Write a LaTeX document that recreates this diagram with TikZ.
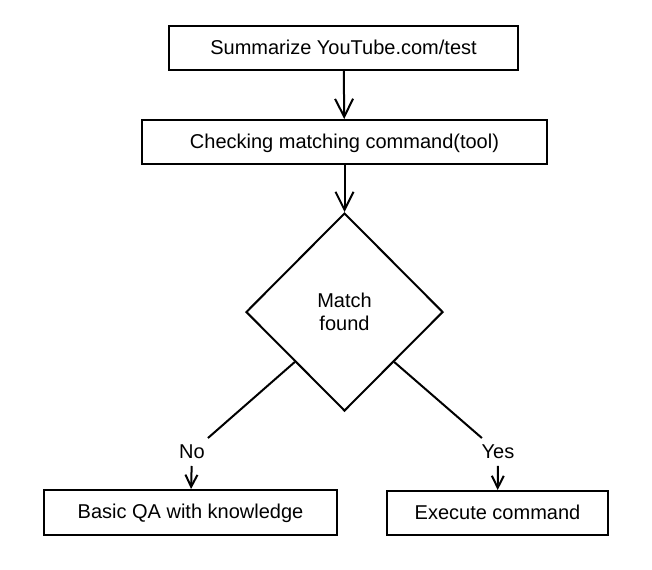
\documentclass[tikz,border=0pt]{standalone}
\usepackage{fontspec}
\setmainfont{Liberation Sans}
\usetikzlibrary{shapes.geometric,arrows.meta}

\begin{document}
\begin{tikzpicture}[x=0.5pt, y=-0.5pt, line width=1pt, every text node part/.style={align=center}, font=\fontsize{10}{11.5}\selectfont,
  stepbox/.style={draw, inner sep=0pt, minimum height=22pt, text height=1.6ex, text depth=.4ex},
  decision/.style={draw, diamond, inner sep=0pt, minimum width=98.5pt, minimum height=99pt},
  flow/.style={-{Straight Barb[length=9pt,width=9pt]}},
  choice/.style={-{Straight Barb[length=6pt,width=6pt]}},
  answer/.style={inner sep=3pt}]
\useasboundingbox (0,0) rectangle (652,569);
\node [stepbox, minimum width=174.5pt] (summarize) at (343.5,48) {Summarize YouTube.com/test};
\node [stepbox, minimum width=202.5pt] (checking) at (344.5,142) {Checking matching command(tool)};
\node [decision] (match) at (344.5,312) {Match\\found};
\node [stepbox, minimum width=146.5pt, minimum height=22.5pt] (basic) at (190.5,512.5) {Basic QA with knowledge};
\node [stepbox, minimum width=110.5pt] (execute) at (497.5,513) {Execute command};
\node [answer] (no) at (192,452) {No};
\node [answer] (yes) at (498,452) {Yes};
\draw [flow] (summarize) -- (checking);
\draw [flow] (checking) -- (match);
\draw [choice] (match.south west) -- (no) -- (basic);
\draw [choice] (match.south east) -- (yes) -- (execute);
\end{tikzpicture}
\end{document}
